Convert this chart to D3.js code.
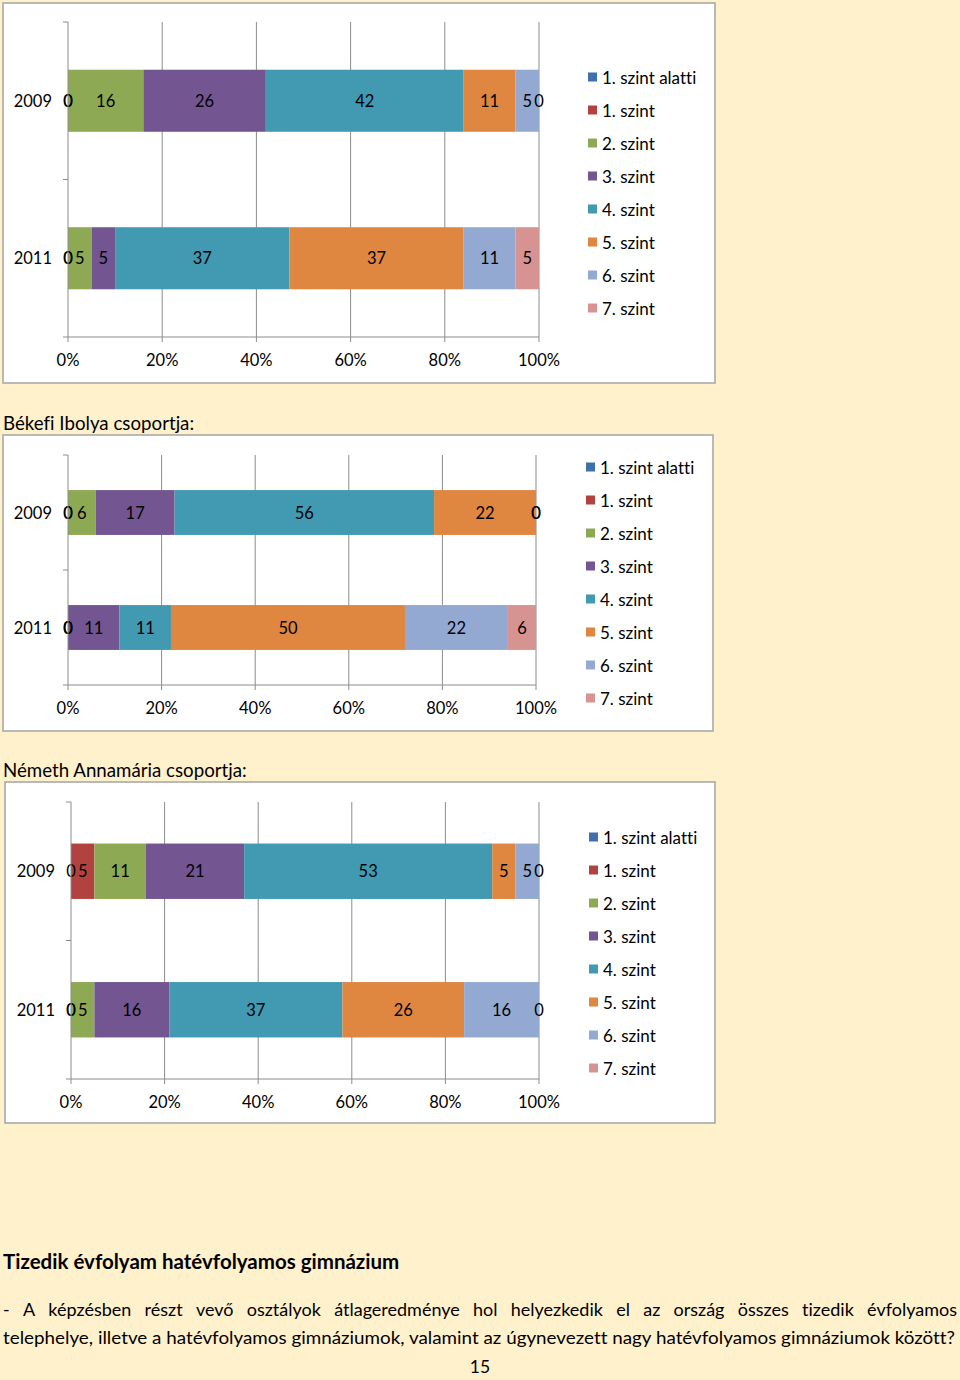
<!DOCTYPE html>
<html><head><meta charset="utf-8">
<script src="https://cdn.jsdelivr.net/npm/d3@7"></script>
<style>
html,body{margin:0;padding:0;background:#FFF1CC;}
svg{display:block;}
text{font-variant-ligatures:none;font-feature-settings:"liga" 0;}
</style></head>
<body>
<svg id="page" width="960" height="1380"></svg>
<script>
// ---------------- DATA ----------------
const categories = ["2009", "2011"];
const seriesNames = ["1. szint alatti", "1. szint", "2. szint", "3. szint", "4. szint", "5. szint", "6. szint", "7. szint"];
const seriesColors = ["#3F70AB", "#B2423F", "#8EA953", "#735592", "#4199B2", "#DF8641", "#93A9D1", "#D69392"];
const tickValues = [0, 20, 40, 60, 80, 100];
const tickLabels = ["0%", "20%", "40%", "60%", "80%", "100%"];

// chart 1 (top, untitled)
const chart1_2009 = [0, 0, 16, 26, 42, 11, 5, 0];
const chart1_2011 = [0, 0, 5, 5, 37, 37, 11, 5];
// chart 2: Békefi Ibolya csoportja
const chart2_2009 = [0, 0, 6, 17, 56, 22, 0, 0];
const chart2_2011 = [0, 0, 0, 11, 11, 50, 22, 6];
// chart 3: Németh Annamária csoportja
const chart3_2009 = [0, 5, 11, 21, 53, 5, 5, 0];
const chart3_2011 = [0, 0, 5, 16, 37, 26, 16, 0];

const headings = ["Békefi Ibolya csoportja:", "Németh Annamária csoportja:"];
const sectionTitle = "Tizedik évfolyam hatévfolyamos gimnázium";
const paraLine1 = "- A képzésben részt vevő osztályok átlageredménye hol helyezkedik el az ország összes tizedik évfolyamos";
const paraLine2 = "telephelye, illetve a hatévfolyamos gimnáziumok, valamint az úgynevezett nagy hatévfolyamos gimnáziumok között?";
const pageNumber = "15";

// ---------------- DRAW ----------------
const FONT = "Lato, 'Open Sans', sans-serif";
const FS = 16.5;
const svg = d3.select("#page");

function drawChart(cfg, rows) {
  const g = svg.append("g");
  g.append("rect").attr("x", cfg.box[0]).attr("y", cfg.box[1])
    .attr("width", cfg.box[2] - cfg.box[0]).attr("height", cfg.box[3] - cfg.box[1])
    .attr("fill", "#fff").attr("stroke", "#A9A9A9").attr("stroke-width", 1.6);

  const x = d3.scaleLinear().domain([0, 100]).range([cfg.x0, cfg.x1]);
  const y = d3.scaleBand().domain(categories).range([cfg.top, cfg.bottom]).padding(0);
  const barH = y.bandwidth() * cfg.barFrac;

  g.selectAll(".grid").data(tickValues.slice(1)).join("line")
    .attr("x1", d => x(d)).attr("x2", d => x(d))
    .attr("y1", cfg.top).attr("y2", cfg.bottom)
    .attr("stroke", "#8C8C8C").attr("stroke-width", 1);

  const stacked = rows.map(vals => {
    const total = d3.sum(vals);
    let acc = 0;
    return vals.map((v, i) => {
      const s = acc / total * 100; acc += v;
      return { v, i, s, e: acc / total * 100 };
    });
  });
  categories.forEach((cat, ci) => {
    const cy = y(cat) + y.bandwidth() / 2;
    const segs = stacked[ci];
    g.selectAll(null).data(segs).join("rect")
      .attr("x", d => x(d.s)).attr("width", d => x(d.e) - x(d.s))
      .attr("y", cy - barH / 2).attr("height", barH)
      .attr("fill", d => seriesColors[d.i]);
    g.selectAll(null).data(segs).join("text")
      .attr("x", d => (x(d.s) + x(d.e)) / 2).attr("y", cy)
      .attr("text-anchor", "middle").attr("dominant-baseline", "central")
      .attr("font-family", FONT).attr("font-size", FS).attr("fill", "#000")
      .text(d => d.v);
    g.append("text").attr("x", cfg.x0 - 16).attr("y", cy)
      .attr("text-anchor", "end").attr("dominant-baseline", "central")
      .attr("font-family", FONT).attr("font-size", FS).attr("fill", "#000")
      .text(cat);
  });

  g.append("line").attr("x1", cfg.x0).attr("x2", cfg.x0).attr("y1", cfg.top).attr("y2", cfg.bottom)
    .attr("stroke", "#8C8C8C");
  g.append("line").attr("x1", cfg.x0).attr("x2", cfg.x1).attr("y1", cfg.bottom).attr("y2", cfg.bottom)
    .attr("stroke", "#8C8C8C");
  const catTicks = [cfg.top, cfg.top + y.bandwidth(), cfg.bottom];
  g.selectAll(null).data(catTicks).join("line")
    .attr("x1", cfg.x0 - 5).attr("x2", cfg.x0).attr("y1", d => d).attr("y2", d => d)
    .attr("stroke", "#8C8C8C");
  g.selectAll(null).data(tickValues).join("line")
    .attr("x1", d => x(d)).attr("x2", d => x(d)).attr("y1", cfg.bottom).attr("y2", cfg.bottom + 5)
    .attr("stroke", "#8C8C8C");
  g.selectAll(null).data(tickValues).join("text")
    .attr("x", d => x(d)).attr("y", cfg.tickY)
    .attr("text-anchor", "middle").attr("dominant-baseline", "central")
    .attr("font-family", FONT).attr("font-size", FS).attr("fill", "#000")
    .text((d, i) => tickLabels[i]);

  seriesNames.forEach((name, i) => {
    const ly = cfg.legY0 + i * 33;
    g.append("rect").attr("x", cfg.legX).attr("y", ly - 4.5).attr("width", 9).attr("height", 9)
      .attr("fill", seriesColors[i]);
    g.append("text").attr("x", cfg.legX + 14).attr("y", ly)
      .attr("dominant-baseline", "central")
      .attr("font-family", FONT).attr("font-size", FS + 0.5).attr("fill", "#000")
      .text(name);
  });
}

drawChart({ box: [3, 3, 715, 383], x0: 68, x1: 539, top: 22, bottom: 337, barFrac: 0.394,
  tickY: 360, legX: 588, legY0: 77 }, [chart1_2009, chart1_2011]);
drawChart({ box: [3, 435, 713, 731], x0: 68, x1: 536, top: 455, bottom: 685, barFrac: 0.39,
  tickY: 708, legX: 586, legY0: 467 }, [chart2_2009, chart2_2011]);
drawChart({ box: [5, 782, 715, 1123], x0: 71, x1: 539, top: 802, bottom: 1079, barFrac: 0.40,
  tickY: 1102, legX: 589, legY0: 837 }, [chart3_2009, chart3_2011]);

[[headings[0], 423], [headings[1], 770]].forEach(([t, yy]) => {
  svg.append("text").attr("x", 3).attr("y", yy).attr("dominant-baseline", "central")
    .attr("font-family", FONT).attr("font-size", 18.7).attr("fill", "#000").text(t);
});
svg.append("text").attr("x", 3).attr("y", 1261).attr("dominant-baseline", "central")
  .attr("font-family", FONT).attr("font-size", 20.5).attr("font-weight", "bold").attr("fill", "#000")
  .text(sectionTitle);

(function () {
  const words = paraLine1.split(" ");
  const left = 3, right = 957, yy = 1309;
  const nodes = words.map(w => svg.append("text").attr("y", yy).attr("dominant-baseline", "central")
    .attr("font-family", FONT).attr("font-size", 18).attr("fill", "#000").text(w));
  const widths = nodes.map(n => n.node().getComputedTextLength());
  const gap = (right - left - d3.sum(widths)) / (words.length - 1);
  let cx = left;
  nodes.forEach((n, i) => { n.attr("x", cx); cx += widths[i] + gap; });
})();
svg.append("text").attr("x", 3).attr("y", 1337).attr("dominant-baseline", "central")
  .attr("font-family", FONT).attr("font-size", 18).attr("fill", "#000")
  .attr("textLength", 952).attr("lengthAdjust", "spacingAndGlyphs")
  .text(paraLine2);
svg.append("text").attr("x", 480).attr("y", 1366).attr("text-anchor", "middle").attr("dominant-baseline", "central")
  .attr("font-family", FONT).attr("font-size", 17.5).attr("fill", "#000").text(pageNumber);
</script>
</body></html>
